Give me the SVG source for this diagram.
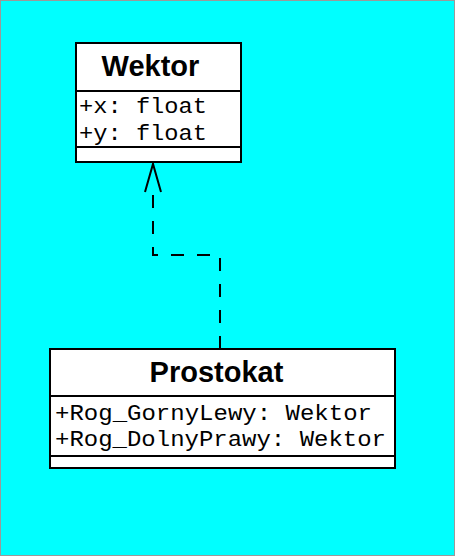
<svg xmlns="http://www.w3.org/2000/svg" width="455" height="556" viewBox="0 0 455 556">
<defs>
<style>
.box{fill:#fff;stroke:#000;stroke-width:2}
.sep{stroke:#000;stroke-width:2}
.title{font-family:"Liberation Sans",Arial,sans-serif;font-weight:bold;font-size:29px;text-anchor:middle;fill:#000}
.attr{font-family:"Liberation Mono","Courier New",monospace;font-size:22px;fill:#000}
.conn{fill:none;stroke:#000;stroke-width:2}
</style>
</defs>
<rect x="0.5" y="0.5" width="454" height="555" fill="#00FFFF" stroke="#9a9a9a" stroke-width="1"/>
<g id="connectors">
<path class="conn" d="M220 349 V255 H153 V191" stroke-dasharray="13 13"/>
<path class="conn" d="M145 192 L153 164 L161 192"/>
</g>
<g id="Wektor">
<rect class="box" x="76" y="43" width="165" height="119"/>
<line class="sep" x1="76" y1="91" x2="241" y2="91"/>
<line class="sep" x1="76" y1="147" x2="241" y2="147"/>
<text class="title" x="150.5" y="76">Wektor</text>
<text class="attr" x="79" y="113" textLength="128" lengthAdjust="spacingAndGlyphs">+x: float</text>
<text class="attr" x="79" y="140" textLength="128" lengthAdjust="spacingAndGlyphs">+y: float</text>
</g>
<g id="Prostokat">
<rect class="box" x="50" y="349" width="345" height="119"/>
<line class="sep" x1="50" y1="396" x2="395" y2="396"/>
<line class="sep" x1="50" y1="456" x2="395" y2="456"/>
<text class="title" x="216.5" y="382">Prostokat</text>
<text class="attr" x="55" y="420" textLength="317" lengthAdjust="spacingAndGlyphs">+Rog_GornyLewy: Wektor</text>
<text class="attr" x="55" y="446" textLength="331" lengthAdjust="spacingAndGlyphs">+Rog_DolnyPrawy: Wektor</text>
</g>
</svg>
